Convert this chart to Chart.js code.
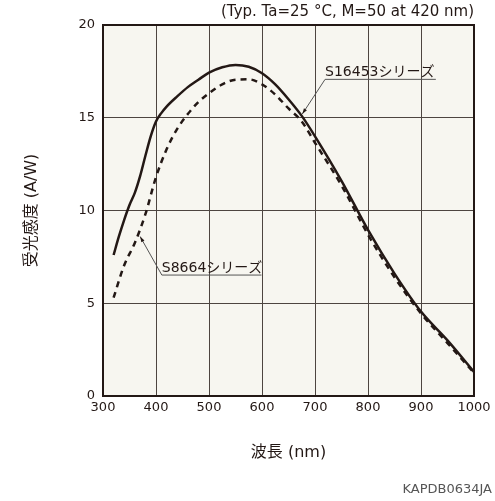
<!DOCTYPE html>
<html lang="ja">
<head>
  <meta charset="UTF-8" />
  <title>受光感度 - 波長</title>
  <style>
    body {
      margin: 0;
      background-color: #ffffff;
    }

    #chart-container {
      width: 495px;
      height: 501px;
    }
  </style>
</head>
<body>

<div id="chart-container">
  <canvas id="sensChart" width="495" height="501" aria-label="受光感度の波長特性" role="img"></canvas>
</div>

<script src="https://cdn.jsdelivr.net/npm/chart.js"></script>

<script>
// wavelength (nm) and photosensitivity (A/W)
const s16453Wavelengths = [320, 330, 340, 350, 360, 370, 380, 390, 400, 410, 420, 440, 460, 480, 500, 525, 550, 575, 600, 625, 650, 675, 700, 750, 800, 850, 900, 950, 1000];
const s16453Values      = [7.6, 8.6, 9.5, 10.3, 10.95, 11.85, 12.95, 14.0, 14.8, 15.25, 15.6, 16.15, 16.65, 17.05, 17.43, 17.72, 17.85, 17.75, 17.4, 16.8, 16.0, 15.1, 14.0, 11.6, 8.95, 6.6, 4.55, 3.0, 1.3];

const s8664Wavelengths = [320, 340, 360, 380, 400, 420, 440, 460, 480, 500, 525, 550, 575, 600, 625, 650, 675, 700, 750, 800, 850, 900, 950, 1000];
const s8664Values      = [5.3, 7.05, 8.25, 9.8, 11.8, 13.3, 14.4, 15.2, 15.85, 16.32, 16.8, 17.05, 17.07, 16.8, 16.25, 15.5, 14.8, 13.65, 11.35, 8.7, 6.4, 4.45, 2.85, 1.25];

const xTicks = [300, 400, 500, 600, 700, 800, 900, 1000];
const yTicks = [0, 5, 10, 15, 20];

const seriesNames = ['S16453シリーズ', 'S8664シリーズ'];
const conditionNote = '(Typ. Ta=25 °C, M=50 at 420 nm)';
const drawingCode = 'KAPDB0634JA';

const FONT = '"DejaVu Sans", "Noto Sans CJK JP", sans-serif';
const INK = '#231815';

// leader-line labels, anchored in data units (tip on curve, elbow, underline end)
const callouts = [
  { text: seriesNames[0], tip: [676, 15.2], elbow: [719, 17.07], endX: 928 },
  { text: seriesNames[1], tip: [370, 8.6], elbow: [411, 6.52], endX: 599 }
];

function toPoints(xs, ys) {
  return xs.map((x, i) => ({ x: x, y: ys[i] }));
}

const plotDecor = {
  id: 'plotDecor',
  beforeDraw(chart) {
    const { ctx, chartArea: a } = chart;
    ctx.save();
    ctx.fillStyle = '#f7f6f0';
    ctx.fillRect(a.left, a.top, a.right - a.left, a.bottom - a.top);
    ctx.restore();
  },
  afterDraw(chart) {
    const { ctx, chartArea: a, scales } = chart;
    const xs = scales.x, ys = scales.y;

    ctx.save();
    // frame
    ctx.strokeStyle = INK;
    ctx.lineWidth = 2;
    ctx.strokeRect(a.left, a.top, a.right - a.left, a.bottom - a.top);

    // callouts
    ctx.font = '14px ' + FONT;
    ctx.textAlign = 'left';
    ctx.textBaseline = 'alphabetic';
    callouts.forEach(c => {
      const tx = xs.getPixelForValue(c.tip[0]);
      const ty = ys.getPixelForValue(c.tip[1]);
      const ex = xs.getPixelForValue(c.elbow[0]);
      const ey = ys.getPixelForValue(c.elbow[1]);
      const rx = xs.getPixelForValue(c.endX);

      ctx.strokeStyle = '#555';
      ctx.lineWidth = 1;
      ctx.beginPath();
      ctx.moveTo(tx, ty);
      ctx.lineTo(ex, ey);
      ctx.lineTo(rx, ey);
      ctx.stroke();

      // little arrow head at the curve
      const ang = Math.atan2(ey - ty, ex - tx);
      ctx.fillStyle = INK;
      ctx.beginPath();
      ctx.moveTo(tx, ty);
      ctx.lineTo(tx + 6 * Math.cos(ang - 0.3), ty + 6 * Math.sin(ang - 0.3));
      ctx.lineTo(tx + 6 * Math.cos(ang + 0.3), ty + 6 * Math.sin(ang + 0.3));
      ctx.closePath();
      ctx.fill();

      ctx.fillStyle = INK;
      ctx.fillText(c.text, ex, ey - 3);
    });

    // drawing number, bottom right
    ctx.font = '13px ' + FONT;
    ctx.fillStyle = '#555';
    ctx.textAlign = 'right';
    ctx.textBaseline = 'middle';
    ctx.fillText(drawingCode, chart.width - 3, 490);
    ctx.restore();
  }
};

const ctx = document.getElementById('sensChart').getContext('2d');

new Chart(ctx, {
  type: 'line',
  data: {
    datasets: [
      {
        label: seriesNames[0],
        data: toPoints(s16453Wavelengths, s16453Values),
        borderColor: INK,
        borderWidth: 2.5,
        pointRadius: 0,
        cubicInterpolationMode: 'monotone',
        fill: false
      },
      {
        label: seriesNames[1],
        data: toPoints(s8664Wavelengths, s8664Values),
        borderColor: INK,
        borderWidth: 2.5,
        borderDash: [6, 5],
        pointRadius: 0,
        cubicInterpolationMode: 'monotone',
        fill: false
      }
    ]
  },
  options: {
    responsive: false,
    animation: false,
    layout: {
      padding: { top: 0, right: 21, bottom: 0, left: 0 }
    },
    scales: {
      x: {
        type: 'linear',
        min: xTicks[0],
        max: xTicks[xTicks.length - 1],
        afterBuildTicks: scale => { scale.ticks = xTicks.map(v => ({ value: v })); },
        afterFit: scale => { scale.height = 105; },
        grid: { color: '#4d4540', lineWidth: 1, drawTicks: false },
        border: { display: false },
        ticks: {
          padding: 4,
          color: INK,
          font: { family: FONT, size: 13 },
          maxRotation: 0,
          callback: v => String(v)
        },
        title: {
          display: true,
          text: '波長 (nm)',
          color: INK,
          font: { family: FONT, size: 16 },
          padding: { top: 0, bottom: 39 }
        }
      },
      y: {
        type: 'linear',
        min: yTicks[0],
        max: yTicks[yTicks.length - 1],
        afterBuildTicks: scale => { scale.ticks = yTicks.map(v => ({ value: v })); },
        afterFit: scale => { scale.width = 103; },
        grid: { color: '#4d4540', lineWidth: 1, drawTicks: false },
        border: { display: false },
        ticks: {
          padding: 8,
          color: INK,
          font: { family: FONT, size: 13 },
          callback: v => String(v)
        },
        title: {
          display: true,
          text: '受光感度 (A/W)',
          color: INK,
          font: { family: FONT, size: 16 },
          padding: { top: 22, bottom: 0 }
        }
      }
    },
    plugins: {
      legend: { display: false },
      tooltip: { enabled: false },
      title: {
        display: true,
        text: conditionNote,
        align: 'end',
        position: 'top',
        color: INK,
        font: { family: FONT, size: 15, weight: 'normal' },
        padding: { top: 3.5, bottom: 3.5 }
      }
    }
  },
  plugins: [plotDecor]
});
</script>

</body>
</html>
